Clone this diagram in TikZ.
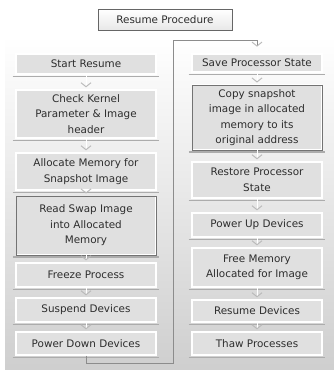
\documentclass[tikz,border=0pt]{standalone}
\usepackage{fontspec}
\setmainfont{DejaVu Sans}
\usetikzlibrary{arrows.meta}
\definecolor{boxfill}{RGB}{224,224,224}
\definecolor{txt}{RGB}{45,45,45}
\begin{document}
\begin{tikzpicture}[x=0.75pt,y=-0.75pt,
	every node/.style={font=\fontsize{7.8}{11.6}\selectfont,text=txt,align=center,inner sep=0pt},
	stage/.style={fill=boxfill,draw=white,line width=1pt},
	lstage/.style={stage,minimum width=105pt},
	rstage/.style={stage,minimum width=97.5pt},
	marked/.style={draw=black!55,line width=0.7pt,
		path picture={\draw[white,line width=2.2pt] (path picture bounding box.south west) rectangle (path picture bounding box.north east);}},
	titlebox/.style={draw=black!60,line width=0.6pt,top color=white,bottom color=gray!18,minimum width=100.5pt,minimum height=15.75pt},
	link/.style={draw=white,line width=0.6pt,shorten >=1.5pt,
		-{Straight Barb[length=3pt,width=7.5pt,line width=0.7pt,color=gray!55]}},
	backline/.style={draw=black!45,line width=0.75pt,shorten >=5pt,
		-{Straight Barb[length=3pt,width=7.5pt,line width=0.7pt,color=gray!55]}},
	shadowline/.style={draw=gray!65,line width=0.9pt}]
			\useasboundingbox (0,0) rectangle (334,370);
			\fill[top color=white,bottom color=gray!38] (5,36) rectangle (334,370);
			\node[titlebox] (title) at (165,19.5) {Resume Procedure};

			\node[lstage,minimum height=15pt] (start) at (86,64) {Start Resume};
			\node[lstage,minimum height=36pt] (check) at (86,114) {Check Kernel\\Parameter \& Image\\header};
			\node[lstage,minimum height=27.75pt] (alloc) at (86,171.5) {Allocate Memory for\\Snapshot Image};
			\node[lstage,marked,minimum height=44.25pt] (readswap) at (86,225.5) {Read Swap Image\\into Allocated\\Memory};
			\node[lstage,minimum height=18pt] (freeze) at (86,275) {Freeze Process};
			\node[lstage,minimum height=18pt] (suspend) at (86,310) {Suspend Devices};
			\node[lstage,minimum height=17.25pt] (powerdown) at (86,343.5) {Power Down Devices};

			\node[rstage,minimum height=13.5pt] (save) at (257,63) {Save Processor State};
			\node[rstage,marked,minimum height=48.75pt] (copy) at (257,117.5) {Copy snapshot\\image in allocated\\memory to its\\original address};
			\node[rstage,minimum height=27pt] (restore) at (257,180) {Restore Processor\\State};
			\node[rstage,minimum height=18pt] (powerup) at (257,225) {Power Up Devices};
			\node[rstage,minimum height=29.25pt] (freemem) at (257,267.5) {Free Memory\\Allocated for Image};
			\node[rstage,minimum height=16.5pt] (resumedev) at (257,311) {Resume Devices};
			\node[rstage,minimum height=17.25pt] (thaw) at (257,343.5) {Thaw Processes};

			\foreach \n in {start,check,alloc,readswap,freeze,suspend,powerdown,save,copy,restore,powerup,freemem,resumedev,thaw}
				\draw[shadowline] ([xshift=-2pt,yshift=-1.2pt]\n.south west) -- ([xshift=2pt,yshift=-1.2pt]\n.south east);

			\draw[link] (start) -- (check);
			\draw[link] (check) -- (alloc);
			\draw[link] (alloc) -- (readswap);
			\draw[link] (readswap) -- (freeze);
			\draw[link] (freeze) -- (suspend);
			\draw[link] (suspend) -- (powerdown);
			\draw[link] (save) -- (copy);
			\draw[link] (copy) -- (restore);
			\draw[link] (restore) -- (powerup);
			\draw[link] (powerup) -- (freemem);
			\draw[link] (freemem) -- (resumedev);
			\draw[link] (resumedev) -- (thaw);

			\coordinate (turnlow) at (173,363);
			\coordinate (turnhigh) at (173,41);
			\draw[backline] (powerdown.south) |- (turnlow) -- (turnhigh) -| (save.north);
\end{tikzpicture}
\end{document}
